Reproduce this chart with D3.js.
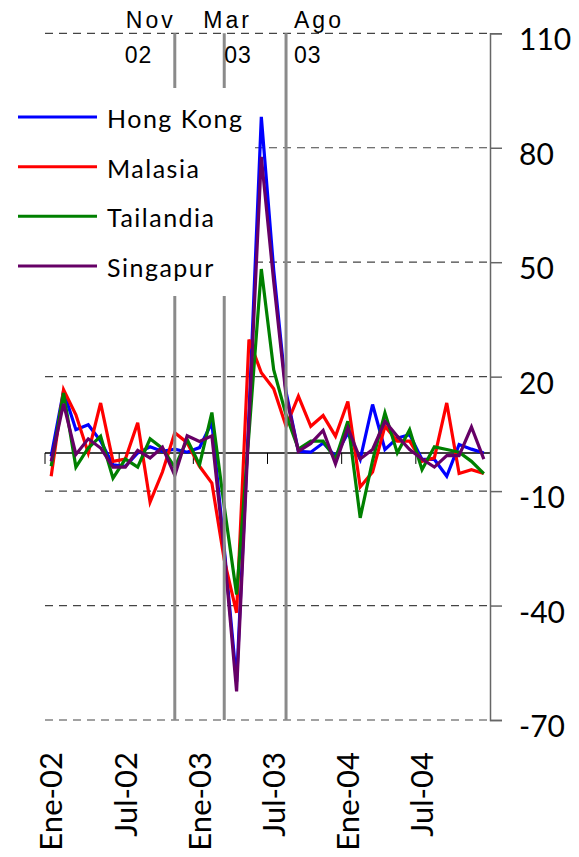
<!DOCTYPE html>
<meta charset="utf-8">
<title>Asia</title>
<script src="https://d3js.org/d3.v7.min.js"></script>
<style>
  body { margin: 0; background: #fff; }
  svg { display: block; }
</style>
<body>
<svg width="579" height="857"></svg>
<script>
  // monthly series, Ene-02 .. Dic-04
  var mesNames = ["Ene", "Feb", "Mar", "Abr", "May", "Jun", "Jul", "Ago", "Sep", "Oct", "Nov", "Dic"];
  var months = [];
  ["02", "03", "04"].forEach(function (yr) {
    mesNames.forEach(function (m) { months.push(m + "-" + yr); });
  });

  var hongKong = [-0.9, 16.2, 6.1, 7.4, 3.1, -3.1, -3.5, 0.0, 1.6, 0.4, 1.0, 0.2,
    1.4, 8.0, -25, -60, 10, 88.1, 48, 16, 0.4, 0.2, 2.6, -0.9,
    5.2, -1.7, 12.7, 0.9, 3.9, 4.8, -1.7, -1.7, -6.1, 2.2, 1.0, 0.0];
  var malasia = [-6.1, 16.6, 10.0, 0.0, 13.1, -2.2, -1.6, 7.9, -12.9, -5.0, 5.3, 2.7,
    -3.5, -7.9, -28, -41.9, 29.7, 21, 16.8, 7.0, 14.9, 7.0, 9.8, 4.4,
    13.5, -8.9, -5.0, 7.0, 3.1, 3.1, -2.2, -1.3, 13.1, -5.4, -4.4, -5.4];
  var tailandia = [-3.5, 15.7, -3.7, 1.3, 4.4, -6.6, -1.6, -3.7, 3.7, 1.2, -3.8, 3.5,
    -3.1, 10.6, -14, -37.1, 5, 48.2, 21.8, 10, 1.0, 3.1, 3.1, -1.6,
    8.3, -17, -2, 10.5, 0.0, 6.1, -4.4, 1.6, 0.9, 0.2, -2.2, -5.4];
  var singapur = [-2.2, 12.9, -0.4, 3.7, 1.3, -3.7, -3.7, 0.7, -1.3, 1.5, -5.9, 4.5,
    3.0, 4.5, -26, -62.5, 8, 77.6, 45, 15, 0.4, 2.5, 5.9, -2.9,
    6.6, -1.6, 0.9, 8.3, 4.4, 0.9, -1.6, -3.7, -0.7, -0.7, 6.8, -1.6];

  var yTicks = [110, 80, 50, 20, -10, -40, -70];
  var events = [
    { month: "Nov-02", top: "Nov", bottom: "02" },
    { month: "Mar-03", top: "Mar", bottom: "03" },
    { month: "Ago-03", top: "Ago", bottom: "03" }
  ];

  var series = [
    { name: "Hong Kong", values: hongKong, color: "#0000ff" },
    { name: "Malasia", values: malasia, color: "#ff0000" },
    { name: "Tailandia", values: tailandia, color: "#008000" },
    { name: "Singapur", values: singapur, color: "#660066" }
  ];

  var svg = d3.select("svg");
  var plotL = 45, plotR = 490, plotT = 33.3, plotB = 720;

  var x = d3.scaleBand().domain(months).range([plotL, plotR]).padding(0);
  var y = d3.scaleLinear().domain([-70, 110]).range([plotB, plotT]);
  function cx(m) { return x(m) + x.bandwidth() / 2; }

  // dashed grid
  svg.append("g")
    .selectAll("line")
    .data(yTicks)
    .enter().append("line")
    .attr("x1", plotL).attr("x2", plotR)
    .attr("y1", function (d) { return y(d); })
    .attr("y2", function (d) { return y(d); })
    .attr("stroke", "#444")
    .attr("stroke-width", 1.2)
    .attr("stroke-dasharray", "8,6");

  // zero line with tick marks every 6 months
  svg.append("line")
    .attr("x1", plotL).attr("x2", plotR)
    .attr("y1", y(0)).attr("y2", y(0))
    .attr("stroke", "#000").attr("stroke-width", 1.5);
  svg.append("g")
    .selectAll("line")
    .data(months.filter(function (d, i) { return i % 6 == 0; }))
    .enter().append("line")
    .attr("x1", function (d) { return x(d); })
    .attr("x2", function (d) { return x(d); })
    .attr("y1", y(0)).attr("y2", y(0) + 11)
    .attr("stroke", "#000").attr("stroke-width", 1);

  // lines
  var line = d3.line()
    .x(function (d, i) { return cx(months[i]); })
    .y(function (d) { return y(d); });

  svg.append("g")
    .selectAll("path")
    .data(series)
    .enter().append("path")
    .attr("d", function (d) { return line(d.values); })
    .attr("fill", "none")
    .attr("stroke", function (d) { return d.color; })
    .attr("stroke-width", 3.2);

  // event markers
  svg.append("g")
    .selectAll("line")
    .data(events)
    .enter().append("line")
    .attr("x1", function (d) { return cx(d.month); })
    .attr("x2", function (d) { return cx(d.month); })
    .attr("y1", plotT).attr("y2", plotB)
    .attr("stroke", "#8a8a8a").attr("stroke-width", 3);

  // top labels
  var evLabelPos = {
    "Nov-02": { t: -49, b: -50 },
    "Mar-03": { t: -21, b: 0 },
    "Ago-03": { t: 8, b: 8 }
  };
  var evg = svg.append("g")
    .attr("font-family", "'Liberation Sans', Arial, sans-serif")
    .attr("font-size", 23)
    .attr("fill", "#000");
  evg.selectAll(".et")
    .data(events)
    .enter().append("text")
    .attr("x", function (d) { return cx(d.month) + evLabelPos[d.month].t; })
    .attr("y", 28)
    .attr("letter-spacing", 3)
    .text(function (d) { return d.top; });
  evg.selectAll(".eb")
    .data(events)
    .enter().append("text")
    .attr("x", function (d) { return cx(d.month) + evLabelPos[d.month].b; })
    .attr("y", 63)
    .attr("letter-spacing", 1)
    .text(function (d) { return d.bottom; });

  // right axis (plain hyphen for negatives, like the original)
  var yAxis = d3.axisRight(y).tickValues(yTicks).tickSize(12).tickPadding(17)
    .tickFormat(function (d) { return String(d); });
  var ya = svg.append("g")
    .attr("transform", "translate(" + plotR + ",0)")
    .call(yAxis);
  ya.select(".domain").attr("stroke", "#666").attr("stroke-width", 1.5);
  ya.selectAll(".tick line").attr("stroke", "#666").attr("stroke-width", 1.5);
  ya.selectAll(".tick text")
    .attr("font-family", "Lato, sans-serif")
    .attr("font-size", 30)
    .attr("dy", "0.55em")
    .attr("fill", "#000");

  // month labels, rotated
  svg.append("g")
    .selectAll("text")
    .data(months.filter(function (d, i) { return i % 6 == 0; }))
    .enter().append("text")
    .attr("transform", function (d) {
      return "translate(" + cx(d) + ",752) rotate(-90)";
    })
    .attr("text-anchor", "end")
    .attr("dy", "0.36em")
    .attr("font-family", "Lato, sans-serif")
    .attr("font-size", 31)
    .attr("fill", "#000")
    .text(function (d) { return d; });

  // legend
  var leg = svg.append("g");
  leg.append("rect")
    .attr("x", 0).attr("y", 88)
    .attr("width", 250).attr("height", 208)
    .attr("fill", "#fff");
  var legY = d3.scalePoint().domain(series.map(function (d) { return d.name; })).range([117, 266]);
  var li = leg.selectAll(".li")
    .data(series)
    .enter().append("g")
    .attr("transform", function (d) { return "translate(0," + legY(d.name) + ")"; });
  li.append("line")
    .attr("x1", 18).attr("x2", 97)
    .attr("stroke", function (d) { return d.color; })
    .attr("stroke-width", 3);
  li.append("text")
    .attr("x", 107).attr("y", 11)
    .attr("font-family", "Lato, sans-serif")
    .attr("font-size", 25)
    .attr("letter-spacing", 1.5)
    .text(function (d) { return d.name; });
</script>
</body>
